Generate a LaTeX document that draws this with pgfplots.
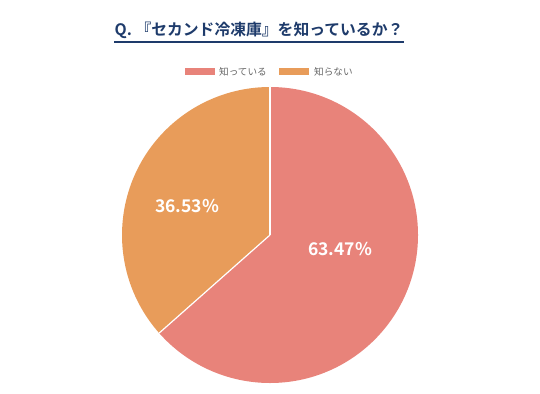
\documentclass[border=0pt]{standalone}
\usepackage{pgfplots}
\pgfplotsset{compat=1.18}
\usepackage{pgfplotstable}
\usepackage{fontspec}
\setmainfont{Noto Sans CJK JP}
\newfontfamily\cjkb{Noto Sans CJK JP}[BoldFont={* Bold}]
\definecolor{salmon}{HTML}{E8837A}
\definecolor{orangeC}{HTML}{E89C5A}
\definecolor{navy}{HTML}{1E3B6B}
\definecolor{legtext}{HTML}{666666}
\pgfplotstableread{
label value
know 63.47
notknow 36.53
}\piedata
\begin{document}
\begin{tikzpicture}[x=1bp,y=1bp]
\pgfplotstablegetelem{0}{value}\of\piedata
\pgfmathsetmacro\va{\pgfplotsretval}
\pgfplotstablegetelem{1}{value}\of\piedata
\pgfmathsetmacro\vb{\pgfplotsretval}
\pgfmathsetmacro\endA{90-3.6*\va}
\path (0,0) rectangle (540,393);
\begin{axis}[hide axis, x=148bp, y=148bp, xmin=-1, xmax=1, ymin=-1, ymax=1,
  at={(270bp,158bp)}, anchor=center, clip=false]
\fill[salmon] (axis cs:0,0) -- ++(90:148bp) arc[start angle=90, end angle=\endA, radius=148bp] -- cycle;
\fill[orangeC] (axis cs:0,0) -- ++(\endA:148bp) arc[start angle=\endA, end angle=-270, radius=148bp] -- cycle;
\draw[white, line width=1.2bp] (axis cs:0,0) -- ++(90:148bp);
\draw[white, line width=1.2bp] (axis cs:0,0) -- ++(\endA:148bp);
\node[white, font=\cjkb\bfseries\fontsize{17.5bp}{20bp}\selectfont] at (axis cs:0.473,-0.098) {\pgfmathprintnumber[fixed,precision=2,fixed zerofill,assume math mode=true]{\va}\%};
\node[white, font=\cjkb\bfseries\fontsize{17.5bp}{20bp}\selectfont] at (axis cs:-0.561,0.199) {\pgfmathprintnumber[fixed,precision=2,fixed zerofill,assume math mode=true]{\vb}\%};
\end{axis}
\node[navy, font=\cjkb\bfseries\fontsize{15.8bp}{18bp}\selectfont, inner sep=0pt] (T) at (259,363) {Q. 『セカンド冷凍庫』を知っているか？};
\draw[navy, line width=1.3bp] (T.west |- 0,351) -- (T.east |- 0,351);
\fill[salmon] (185,318) rectangle (215,325);
\node[legtext, anchor=west, font=\fontsize{9.6bp}{11bp}\selectfont, inner sep=0pt] at (219,321.5) {知っている};
\fill[orangeC] (279,318) rectangle (309,325);
\node[legtext, anchor=west, font=\fontsize{9.6bp}{11bp}\selectfont, inner sep=0pt] at (314,321.5) {知らない};
\end{tikzpicture}
\end{document}
